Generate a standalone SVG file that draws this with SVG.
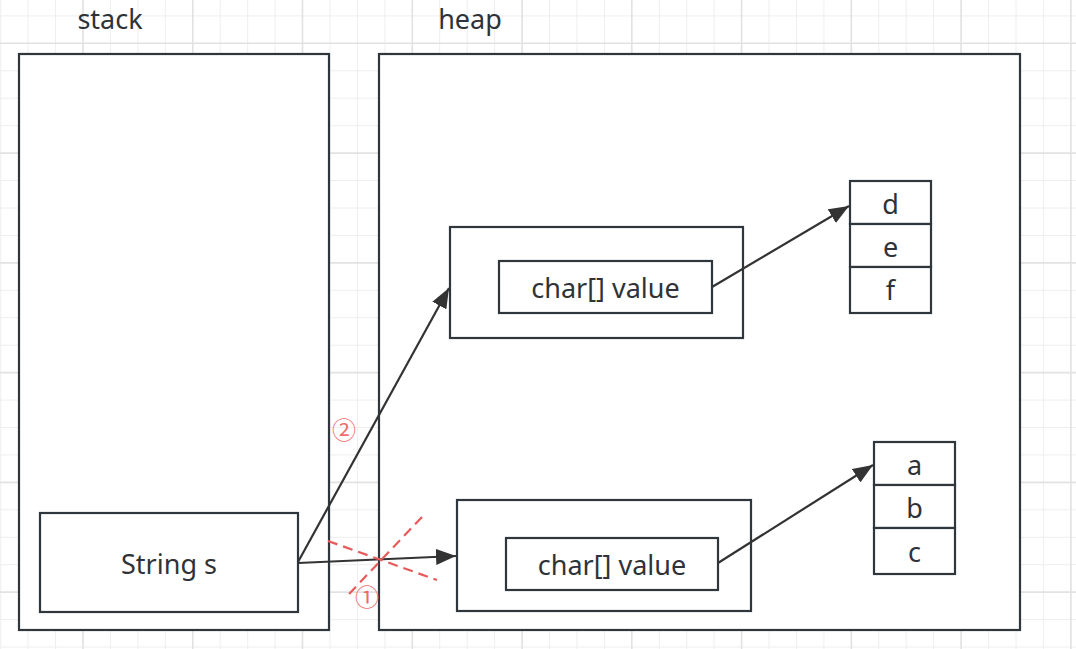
<svg xmlns="http://www.w3.org/2000/svg" width="1076" height="649" viewBox="0 0 1076 649">
<style>
.thin{stroke:#eeeeee;stroke-width:1;fill:none}
.thick{stroke:#e2e2e2;stroke-width:1.6;fill:none}
.box{fill:#ffffff;stroke:#2f363c;stroke-width:2.2}
.lbl{font-family:"Noto Sans","Open Sans",sans-serif;font-size:27px;fill:#2f3338;text-anchor:middle}
.edge{stroke:#333333;stroke-width:2.2;fill:none}
.cross{stroke:#e85a5a;stroke-width:2.2;stroke-dasharray:10 6;fill:none}
.num{font-family:"Noto Sans CJK SC","DejaVu Sans",sans-serif;font-size:24px;fill:#f06a6a;text-anchor:middle}
</style>
<defs>
<marker id="arr" markerUnits="userSpaceOnUse" markerWidth="22" markerHeight="16" refX="20" refY="8" orient="auto">
<path d="M0 0 L20 8 L0 16 Z" fill="#333333"/>
</marker>
</defs>
<rect width="1076" height="649" fill="#ffffff"/>
<g id="grid">
<path class="thin" d="M0.7 0V649M28.1 0V649M55.6 0V649M110.5 0V649M137.9 0V649M165.3 0V649M220.2 0V649M247.7 0V649M275.1 0V649M330 0V649M357.4 0V649M384.9 0V649M439.7 0V649M467.2 0V649M494.6 0V649M549.5 0V649M576.9 0V649M604.4 0V649M659.3 0V649M686.7 0V649M714.1 0V649M769 0V649M796.5 0V649M823.9 0V649M878.8 0V649M906.2 0V649M933.7 0V649M988.5 0V649M1016 0V649M1043.4 0V649M0 15.9H1076M0 70.8H1076M0 98.2H1076M0 125.7H1076M0 180.5H1076M0 208H1076M0 235.4H1076M0 290.3H1076M0 317.7H1076M0 345.2H1076M0 400.1H1076M0 427.5H1076M0 454.9H1076M0 509.8H1076M0 537.3H1076M0 564.7H1076M0 619.6H1076M0 647H1076"/>
<path class="thick" d="M83 0V649M192.8 0V649M302.5 0V649M412.3 0V649M522.1 0V649M631.8 0V649M741.6 0V649M851.3 0V649M961.1 0V649M1070.9 0V649M0 43.3H1076M0 153.1H1076M0 262.9H1076M0 372.6H1076M0 482.4H1076M0 592.1H1076"/>
</g>
<g id="stack">
<rect class="box" x="19" y="54" width="310" height="576"/>
<text class="lbl" x="110" y="29">stack</text>
</g>
<g id="heap">
<rect class="box" x="379" y="54" width="641" height="576"/>
<text class="lbl" x="470" y="29">heap</text>
</g>
<g id="string-s">
<rect class="box" x="40" y="513" width="258" height="99"/>
<text class="lbl" x="169" y="574">String s</text>
</g>
<g id="obj-new">
<rect class="box" x="450" y="227" width="293" height="111"/>
</g>
<g id="value-new">
<rect class="box" x="499" y="261" width="213" height="52"/>
<text class="lbl" x="605.5" y="298">char[] value</text>
</g>
<g id="obj-old">
<rect class="box" x="457" y="500" width="294" height="111"/>
</g>
<g id="value-old">
<rect class="box" x="506" y="538" width="212" height="52"/>
<text class="lbl" x="612" y="575">char[] value</text>
</g>
<g id="array-def">
<rect class="box" x="850" y="181" width="81" height="43"/>
<rect class="box" x="850" y="224" width="81" height="43"/>
<rect class="box" x="850" y="267" width="81" height="46"/>
<text class="lbl" x="890.5" y="214">d</text>
<text class="lbl" x="890.5" y="257">e</text>
<text class="lbl" x="890.5" y="300">f</text>
</g>
<g id="array-abc">
<rect class="box" x="874" y="442" width="81" height="43"/>
<rect class="box" x="874" y="485" width="81" height="43"/>
<rect class="box" x="874" y="528" width="81" height="46"/>
<text class="lbl" x="914.5" y="475">a</text>
<text class="lbl" x="914.5" y="518">b</text>
<text class="lbl" x="914.5" y="562">c</text>
</g>
<g id="connectors">
<path class="edge" d="M298 562 L449 288" marker-end="url(#arr)"/>
<path class="edge" d="M298 563 L456 556" marker-end="url(#arr)"/>
<path class="edge" d="M712 287 L849 206" marker-end="url(#arr)"/>
<path class="edge" d="M718 563 L873 465" marker-end="url(#arr)"/>
<path class="cross" d="M328 541 L437 580"/>
<path class="cross" d="M422 517 L348 595"/>
<text class="num" x="344" y="439">②</text>
<text class="num" x="367" y="606">①</text>
</g>
</svg>
